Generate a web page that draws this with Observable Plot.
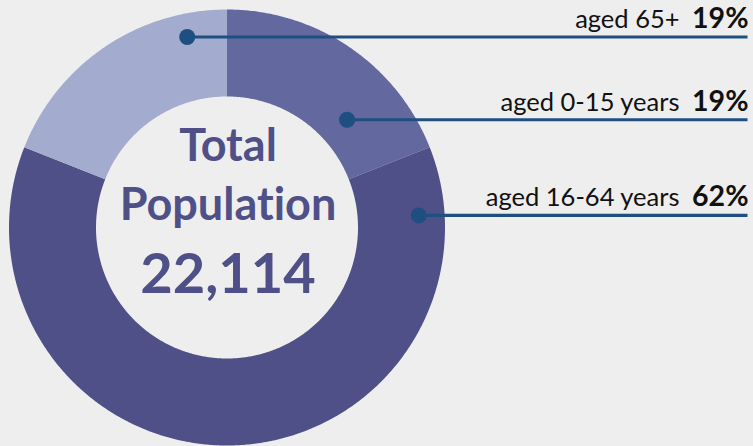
<!DOCTYPE html>
<html>
<head>
<meta charset="utf-8">
<script src="https://cdn.jsdelivr.net/npm/d3@7"></script>
<script src="https://cdn.jsdelivr.net/npm/@observablehq/plot@0.6"></script>
<style>
  html, body { margin: 0; padding: 0; background: #eeeeee; }
  #chart svg { display: block; font-variant-ligatures: none; font-feature-settings: "liga" 0, "clig" 0; }
</style>
</head>
<body>
<div id="chart"></div>
<script>
// ---- data ----
const categories = ["aged 0-15 years", "aged 16-64 years", "aged 65+"];
const shares = [19, 62, 19]; // percent
const totalPopulation = 22114;
const centerTitle = ["Total", "Population"];
const sliceColors = ["#63689f", "#4f5088", "#a3acce"];

// ---- layout ----
const W = 753, H = 446;
const CX = 226.5, CY = 227, R = 218;
const INNER = 131 / R;
const toX = px => (px - CX) / R;
const toY = py => (CY - py) / R;
// leader-dot anchors (angle from north clockwise, radius as fraction of R)
const anchorAngle = [48.1, 86.4, 348.2];
const anchorRadius = [0.74, 0.8815, 0.8927];
const lineEndPx = 747;
const labelEndPx = 679;
const pctEndPx = 748;

const rad = d => d * Math.PI / 180;

// slice polygons
const total = d3.sum(shares);
let acc = 0;
const polys = [];
categories.forEach((c, i) => {
  const a0 = acc / total * 360;
  acc += shares[i];
  const a1 = acc / total * 360;
  const n = Math.max(2, Math.ceil((a1 - a0) / 0.5));
  for (let k = 0; k <= n; k++) {
    const a = rad(a0 + (a1 - a0) * k / n);
    polys.push({cat: c, x: Math.sin(a), y: Math.cos(a)});
  }
  for (let k = n; k >= 0; k--) {
    const a = rad(a0 + (a1 - a0) * k / n);
    polys.push({cat: c, x: INNER * Math.sin(a), y: INNER * Math.cos(a)});
  }
});

const annot = categories.map((c, i) => {
  const a = rad(anchorAngle[i]);
  return {
    cat: c,
    pct: shares[i] + "%",
    x: anchorRadius[i] * Math.sin(a),
    y: anchorRadius[i] * Math.cos(a)
  };
});

const center = [
  {t: centerTitle[0], y: toY(160), size: 45},
  {t: centerTitle[1], y: toY(219), size: 45},
  {t: d3.format(",")(totalPopulation), y: toY(292), size: 56}
];

const chart = Plot.plot({
  width: W,
  height: H,
  margin: 0,
  style: {background: "#eeeeee", fontFamily: "Lato, sans-serif"},
  x: {domain: [toX(0), toX(W)], range: [0, W], axis: null},
  y: {domain: [toY(H), toY(0)], range: [H, 0], axis: null},
  color: {domain: categories, range: sliceColors},
  marks: [
    Plot.line(polys, {x: "x", y: "y", z: "cat", fill: "cat", stroke: "none", curve: "linear"}),
    Plot.link(annot, {x1: "x", y1: "y", x2: toX(lineEndPx), y2: "y", stroke: "#1f4e80", strokeWidth: 3.2}),
    Plot.dot(annot, {x: "x", y: "y", r: 8, fill: "#1f4e80", stroke: "none"}),
    Plot.text(annot, {x: toX(labelEndPx), y: "y", text: "cat", textAnchor: "end", lineAnchor: "bottom", dy: -9, fontSize: 25.5, fill: "#111111"}),
    Plot.text(annot, {x: toX(pctEndPx), y: "y", text: "pct", textAnchor: "end", lineAnchor: "bottom", dy: -9, fontSize: 28.5, fontWeight: "bold", fill: "#111111"}),
    Plot.text(center, {x: 0, y: "y", text: "t", fontSize: "size", lineAnchor: "bottom", dx: 1, fontWeight: "bold", fill: "#4f5088"})
  ]
});
document.getElementById("chart").appendChild(chart);
</script>
</body>
</html>
